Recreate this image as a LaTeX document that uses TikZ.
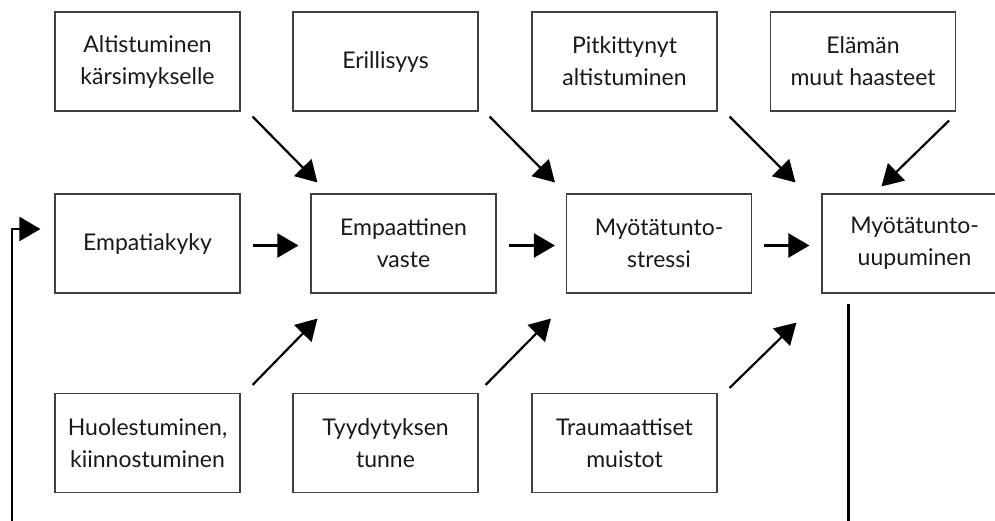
\documentclass[tikz,border=0pt]{standalone}
\usepackage{fontspec}
\setmainfont{Lato}
\usetikzlibrary{arrows.meta}

\begin{document}
\begin{tikzpicture}[x=1pt,y=1pt,
  laatikko/.style={draw=black!75, line width=1.1pt, minimum width=185pt,
    minimum height=99pt, inner sep=0pt, align=center, text=black!90,
    font=\fontsize{23}{32}\selectfont},
  nuoli/.style={line width=2.2pt, -{Triangle[length=21pt,width=24pt]}}
]
\useasboundingbox (0,0) rectangle (995,-520);
\clip (0,0) rectangle (995,-520);

% ylarivi
\node[laatikko] (alt) at (147.5,-61.5) {Altistuminen\\kärsimykselle};
\node[laatikko] (eril) at (385.5,-61.5) {Erillisyys};
\node[laatikko] (pitk) at (624.5,-61.5) {Pitkittynyt\\altistuminen};
\node[laatikko] (haas) at (863,-61.5) {Elämän\\muut haasteet};
% keskirivi
\node[laatikko] (empa) at (147.5,-243.5) {Empatiakyky};
\node[laatikko] (vaste) at (403.5,-243.5) {Empaattinen\\vaste};
\node[laatikko] (stre) at (659,-243.5) {Myötätunto-\\stressi};
\node[laatikko] (uupu) at (914.5,-243.5) {Myötätunto-\\uupuminen};
% alarivi
\node[laatikko] (huol) at (147.5,-443) {Huolestuminen,\\kiinnostuminen};
\node[laatikko] (tyyd) at (385.5,-443) {Tyydytyksen\\tunne};
\node[laatikko] (trau) at (624.5,-443) {Traumaattiset\\muistot};

% vaakanuolet
\draw[nuoli, shorten <=12pt, shorten >=12pt] ([yshift=-2pt]empa.east) -- ([yshift=-2pt]vaste.west);
\draw[nuoli, shorten <=12pt, shorten >=11pt] ([yshift=-2pt]vaste.east) -- ([yshift=-2pt]stre.west);
\draw[nuoli, shorten <=12pt, shorten >=12pt] ([yshift=-2pt]stre.east) -- ([yshift=-2pt]uupu.west);

% ylhaalta
\draw[nuoli] ([shift={(12,-5)}]alt.south east) -- ([shift={(7,11)}]vaste.north west);
\draw[nuoli] ([shift={(11,-5)}]eril.south east) -- ([shift={(-11,11)}]stre.north west);
\draw[nuoli] ([shift={(12,-5)}]pitk.south east) -- ([shift={(-26,11)}]uupu.north west);
\draw[nuoli] ([shift={(-7,-9)}]haas.south east) -- ([shift={(60,7)}]uupu.north west);

% alhaalta
\draw[nuoli] ([shift={(12,8)}]huol.north east) -- ([shift={(7,-25)}]vaste.south west);
\draw[nuoli] ([shift={(7,8)}]tyyd.north east) -- ([shift={(-15,-25)}]stre.south west);
\draw[nuoli] ([shift={(12,5)}]trau.north east) -- ([shift={(-25,-29)}]uupu.south west);

% paluu
\coordinate (kierto) at (12,-540);
\draw[nuoli] ([shift={(27,-10)}]uupu.south west) |- (kierto) |- ([shift={(-14,14.5)}]empa.west);
\end{tikzpicture}
\end{document}
